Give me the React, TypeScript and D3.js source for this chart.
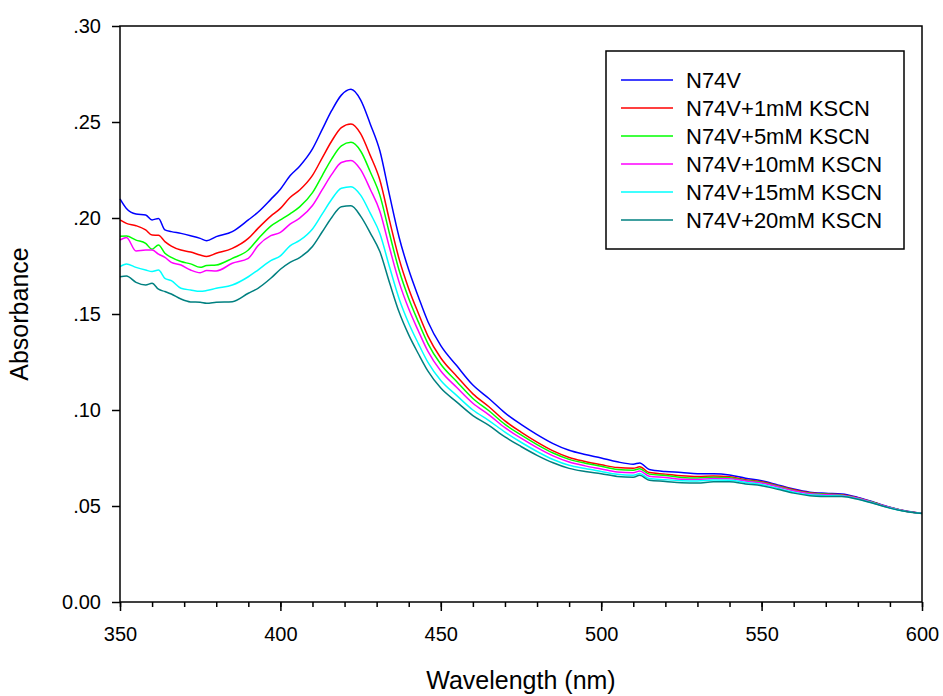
import React, { useRef, useEffect } from "react";
import * as d3 from "d3";

// wavelength grid (nm) shared by all spectra
const wavelengths = [
  350, 352, 355, 358, 360, 362, 364, 366, 369, 372, 375, 377, 380, 385, 390, 393, 397,
  400, 403, 406, 410, 413, 416, 419, 422, 425, 428, 431, 434, 437, 440, 443, 446, 450,
  455, 460, 465, 470, 475, 480, 485, 490, 495, 500, 505, 510, 512, 515, 520, 525, 530,
  535, 540, 545, 550, 555, 560, 565, 570, 575, 580, 585, 590, 595, 600,
];

const n74v = [
  0.2100, 0.2050, 0.2021, 0.2016, 0.1990, 0.1998, 0.1938, 0.1929, 0.1920, 0.1908, 0.1894, 0.1882, 0.1903, 0.1929, 0.1990, 0.2030, 0.2097,
  0.2150, 0.2220, 0.2270, 0.2360, 0.2460, 0.2560, 0.2640, 0.2670, 0.2615, 0.2490, 0.2350, 0.2120, 0.1900, 0.1730, 0.1590, 0.1460, 0.1335,
  0.1230, 0.1130, 0.1060, 0.0985, 0.0925, 0.0872, 0.0825, 0.0790, 0.0768, 0.0750, 0.0730, 0.0718, 0.0724, 0.0690, 0.0680, 0.0675, 0.0668,
  0.0668, 0.0662, 0.0645, 0.0632, 0.0610, 0.0588, 0.0572, 0.0566, 0.0562, 0.0545, 0.0520, 0.0494, 0.0474, 0.0462,
];

const kscn1 = [
  0.1990, 0.1972, 0.1960, 0.1938, 0.1911, 0.1910, 0.1877, 0.1854, 0.1833, 0.1823, 0.1807, 0.1800, 0.1816, 0.1842, 0.1894, 0.1946, 0.2010,
  0.2050, 0.2107, 0.2146, 0.2222, 0.2312, 0.2401, 0.2471, 0.2490, 0.2440, 0.2326, 0.2198, 0.1988, 0.1787, 0.1632, 0.1504, 0.1385, 0.1271,
  0.1175, 0.1084, 0.1017, 0.0943, 0.0885, 0.0833, 0.0787, 0.0753, 0.0732, 0.0715, 0.0700, 0.0696, 0.0704, 0.0674, 0.0666, 0.0657, 0.0653,
  0.0656, 0.0652, 0.0637, 0.0626, 0.0606, 0.0585, 0.0569, 0.0563, 0.0558, 0.0542, 0.0518, 0.0492, 0.0473, 0.0462,
];

const kscn5 = [
  0.1905, 0.1906, 0.1885, 0.1868, 0.1837, 0.1860, 0.1816, 0.1795, 0.1773, 0.1761, 0.1743, 0.1752, 0.1755, 0.1790, 0.1833, 0.1890, 0.1958,
  0.1990, 0.2022, 0.2058, 0.2132, 0.2220, 0.2308, 0.2376, 0.2394, 0.2349, 0.2241, 0.2119, 0.1919, 0.1728, 0.1581, 0.1459, 0.1346, 0.1238,
  0.1147, 0.1060, 0.0996, 0.0925, 0.0870, 0.0820, 0.0776, 0.0743, 0.0723, 0.0707, 0.0690, 0.0686, 0.0694, 0.0666, 0.0659, 0.0649, 0.0646,
  0.0650, 0.0647, 0.0633, 0.0623, 0.0603, 0.0581, 0.0566, 0.0561, 0.0556, 0.0541, 0.0517, 0.0492, 0.0472, 0.0462,
];

const kscn10 = [
  0.1885, 0.1899, 0.1828, 0.1833, 0.1833, 0.1812, 0.1795, 0.1769, 0.1755, 0.1729, 0.1715, 0.1726, 0.1724, 0.1764, 0.1790, 0.1856, 0.1908,
  0.1925, 0.1968, 0.1999, 0.2065, 0.2146, 0.2227, 0.2289, 0.2300, 0.2252, 0.2150, 0.2035, 0.1846, 0.1666, 0.1527, 0.1412, 0.1305, 0.1203,
  0.1117, 0.1035, 0.0975, 0.0908, 0.0853, 0.0804, 0.0761, 0.0729, 0.0709, 0.0693, 0.0677, 0.0673, 0.0682, 0.0655, 0.0649, 0.0639, 0.0638,
  0.0643, 0.0642, 0.0630, 0.0620, 0.0600, 0.0579, 0.0564, 0.0558, 0.0555, 0.0540, 0.0516, 0.0492, 0.0472, 0.0462,
];

const kscn15 = [
  0.1747, 0.1761, 0.1743, 0.1729, 0.1721, 0.1729, 0.1686, 0.1674, 0.1634, 0.1625, 0.1618, 0.1622, 0.1634, 0.1651, 0.1694, 0.1729, 0.1778,
  0.1803, 0.1855, 0.1883, 0.1943, 0.2020, 0.2098, 0.2155, 0.2163, 0.2119, 0.2025, 0.1919, 0.1746, 0.1580, 0.1452, 0.1346, 0.1248, 0.1154,
  0.1075, 0.1000, 0.0945, 0.0885, 0.0832, 0.0784, 0.0742, 0.0712, 0.0695, 0.0680, 0.0665, 0.0660, 0.0669, 0.0643, 0.0637, 0.0632, 0.0630,
  0.0635, 0.0634, 0.0623, 0.0612, 0.0592, 0.0572, 0.0558, 0.0554, 0.0552, 0.0537, 0.0514, 0.0490, 0.0472, 0.0461,
];

const kscn20 = [
  0.1694, 0.1698, 0.1665, 0.1651, 0.1660, 0.1629, 0.1617, 0.1604, 0.1578, 0.1563, 0.1561, 0.1556, 0.1561, 0.1564, 0.1608, 0.1634, 0.1686,
  0.1733, 0.1769, 0.1794, 0.1852, 0.1927, 0.2003, 0.2059, 0.2064, 0.2010, 0.1923, 0.1825, 0.1664, 0.1510, 0.1391, 0.1293, 0.1202, 0.1114,
  0.1041, 0.0971, 0.0920, 0.0860, 0.0810, 0.0764, 0.0725, 0.0696, 0.0680, 0.0668, 0.0654, 0.0650, 0.0660, 0.0634, 0.0628, 0.0621, 0.0620,
  0.0626, 0.0626, 0.0615, 0.0606, 0.0587, 0.0567, 0.0554, 0.0550, 0.0549, 0.0535, 0.0513, 0.0489, 0.0471, 0.0461,
];

const seriesNames = [
  "N74V",
  "N74V+1mM KSCN",
  "N74V+5mM KSCN",
  "N74V+10mM KSCN",
  "N74V+15mM KSCN",
  "N74V+20mM KSCN",
];
const seriesValues = [n74v, kscn1, kscn5, kscn10, kscn15, kscn20];
const seriesColors = ["#0000ff", "#ff0000", "#00ff00", "#ff00ff", "#00ffff", "#008080"];

const xTicks = [350, 400, 450, 500, 550, 600];
const xMinorTicks = d3.range(350, 601, 10);
const yTicks = [0, 0.05, 0.1, 0.15, 0.2, 0.25, 0.3];
const yTickLabels = ["0.00", ".05", ".10", ".15", ".20", ".25", ".30"];

export default function App() {
  const svgRef = useRef(null);

  const W = 943, H = 696;
  const margin = { top: 26, right: 21, bottom: 94, left: 120 };
  const width = W - margin.left - margin.right;
  const height = H - margin.top - margin.bottom;
  const font = "Arial, 'Liberation Sans', sans-serif";

  useEffect(() => {
    const root = d3.select(svgRef.current);
    root.selectAll("*").remove();

    const svg = root.append("g")
      .attr("transform", "translate(" + margin.left + "," + margin.top + ")");

    const x = d3.scaleLinear().domain([350, 600]).range([0, width]);
    const y = d3.scaleLinear().domain([0, 0.3]).range([height, 0]);

    // spectra
    const line = d3.line<number>()
      .x((d, i) => x(wavelengths[i]))
      .y((d) => y(d))
      .curve(d3.curveMonotoneX);

    seriesValues.forEach((vals, k) => {
      svg.append("path")
        .datum(vals)
        .attr("fill", "none")
        .attr("stroke", seriesColors[k])
        .attr("stroke-width", 1.5)
        .attr("stroke-linejoin", "round")
        .attr("d", line);
    });

    // frame
    svg.append("rect")
      .attr("width", width)
      .attr("height", height)
      .attr("fill", "none")
      .attr("stroke", "#000")
      .attr("stroke-width", 1.5);

    // x minor ticks
    svg.append("g")
      .attr("transform", "translate(0," + height + ")")
      .call(d3.axisBottom(x).tickValues(xMinorTicks).tickSize(5).tickSizeOuter(0).tickFormat(() => ""))
      .call((g) => g.select(".domain").remove())
      .call((g) => g.selectAll("line").attr("stroke-width", 1.5));

    // x major ticks
    svg.append("g")
      .attr("transform", "translate(0," + height + ")")
      .call(d3.axisBottom(x).tickValues(xTicks).tickSize(9).tickSizeOuter(0).tickPadding(16))
      .call((g) => g.select(".domain").remove())
      .call((g) => g.selectAll("line").attr("stroke-width", 1.5))
      .call((g) => g.selectAll("text").attr("font-size", 20).attr("font-family", font).attr("fill", "#000"));

    // y axis
    svg.append("g")
      .call(d3.axisLeft(y).tickValues(yTicks).tickSize(8).tickSizeOuter(0).tickPadding(11)
        .tickFormat((d, i) => yTickLabels[i]))
      .call((g) => g.select(".domain").remove())
      .call((g) => g.selectAll("line").attr("stroke-width", 1.5))
      .call((g) => g.selectAll("text").attr("font-size", 20).attr("font-family", font).attr("fill", "#000"));

    // axis titles
    svg.append("text")
      .attr("x", width / 2)
      .attr("y", height + 87)
      .attr("text-anchor", "middle")
      .attr("font-size", 25)
      .attr("font-family", font)
      .text("Wavelength (nm)");

    svg.append("text")
      .attr("transform", "translate(" + (-92) + "," + (height / 2) + ") rotate(-90)")
      .attr("text-anchor", "middle")
      .attr("font-size", 25)
      .attr("font-family", font)
      .text("Absorbance");

    // legend
    const lg = svg.append("g")
      .attr("transform", "translate(" + (606 - margin.left) + "," + (51 - margin.top) + ")");
    lg.append("rect")
      .attr("width", 298)
      .attr("height", 198)
      .attr("fill", "#fff")
      .attr("stroke", "#000")
      .attr("stroke-width", 1.5);
    seriesNames.forEach((name, k) => {
      const ry = 29 + k * 28;
      lg.append("line")
        .attr("x1", 15).attr("x2", 67)
        .attr("y1", ry).attr("y2", ry)
        .attr("stroke", seriesColors[k])
        .attr("stroke-width", 1.5);
      lg.append("text")
        .attr("x", 80)
        .attr("y", ry)
        .attr("dy", "0.35em")
        .attr("font-size", 22)
        .attr("font-family", font)
        .text(name);
    });
  }, []);

  return (
    <div style={{ position: "absolute", left: 0, top: 0 }}>
      <svg ref={svgRef} width={W} height={H} style={{ display: "block", background: "#fff" }} />
    </div>
  );
}
